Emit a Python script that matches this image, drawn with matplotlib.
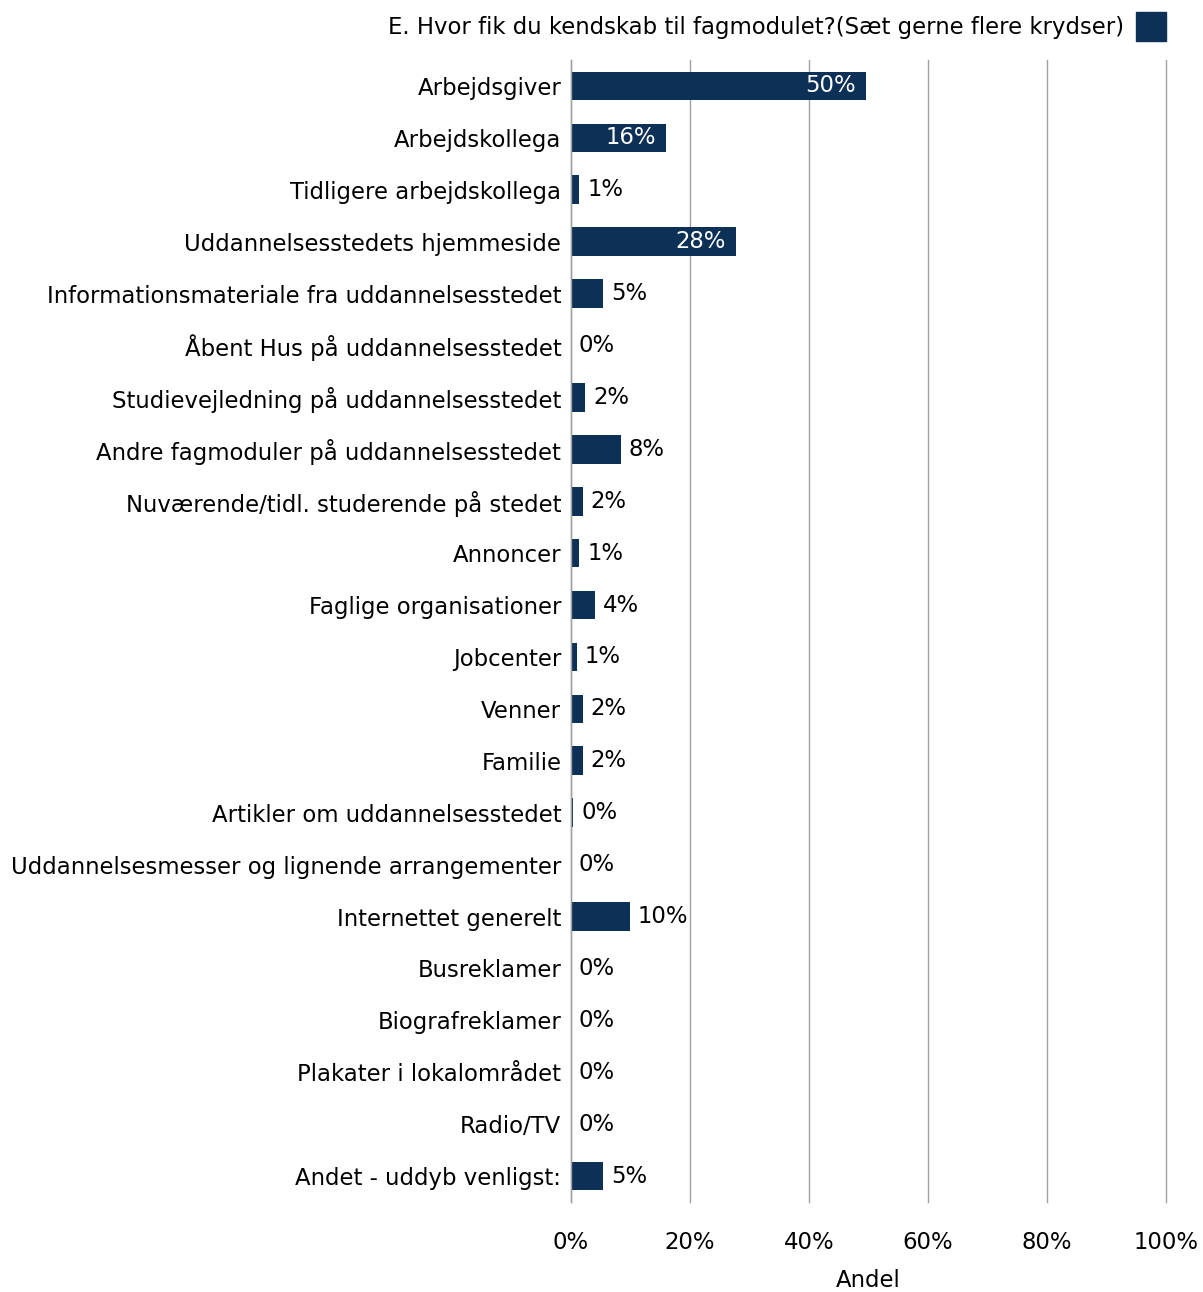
import matplotlib
matplotlib.use("Agg")
import matplotlib.pyplot as plt
from matplotlib.patches import Patch

categories = [
    "Arbejdsgiver",
    "Arbejdskollega",
    "Tidligere arbejdskollega",
    "Uddannelsesstedets hjemmeside",
    "Informationsmateriale fra uddannelsesstedet",
    "Åbent Hus på uddannelsesstedet",
    "Studievejledning på uddannelsesstedet",
    "Andre fagmoduler på uddannelsesstedet",
    "Nuværende/tidl. studerende på stedet",
    "Annoncer",
    "Faglige organisationer",
    "Jobcenter",
    "Venner",
    "Familie",
    "Artikler om uddannelsesstedet",
    "Uddannelsesmesser og lignende arrangementer",
    "Internettet generelt",
    "Busreklamer",
    "Biografreklamer",
    "Plakater i lokalområdet",
    "Radio/TV",
    "Andet - uddyb venligst:",
]
shares = [49.6, 16.0, 1.4, 27.7, 5.4, 0.0, 2.4, 8.4, 2.0, 1.4, 4.0, 1.0,
          2.0, 2.0, 0.4, 0.0, 9.9, 0.0, 0.0, 0.0, 0.0, 5.4]
series_name = "E. Hvor fik du kendskab til fagmodulet?(Sæt gerne flere krydser)"
xticks = [0, 20, 40, 60, 80, 100]
xlabel = "Andel"

BAR = "#0d3057"
GRID = "#a0a0a0"
FONT = "DejaVu Sans"
FS = 16.4

plt.rcParams["font.family"] = [FONT]

W, H = 1203, 1292
fig = plt.figure(figsize=(W / 100, H / 100), dpi=100)
ax = fig.add_axes([571 / W, 1 - 1202 / H, (1166 - 571) / W, (1202 - 60) / H])

y = list(range(len(categories)))
ax.barh(y, shares, height=0.55, color=BAR, zorder=3)

ax.set_xlim(0, 100)
ax.set_ylim(len(categories) - 0.5, -0.5)
ax.set_yticks(y)
ax.set_yticklabels(categories, fontsize=FS)
ax.set_xticks(xticks)
ax.set_xticklabels([f"{t}%" for t in xticks], fontsize=FS)
ax.tick_params(axis="y", length=0, pad=7)
ax.tick_params(axis="x", length=0, pad=21)
ax.set_xlabel(xlabel, fontsize=FS)
ax.xaxis.set_label_coords(0.5, -0.069)
ax.xaxis.label.set_verticalalignment("center")

ax.grid(axis="x", color=GRID, linewidth=1.0, zorder=0)
for gl in ax.xaxis.get_gridlines():
    gl.set_clip_on(False)
for s in ("top", "right", "bottom"):
    ax.spines[s].set_visible(False)
ax.spines["left"].set_color(GRID)
ax.spines["left"].set_linewidth(1.0)
ax.spines["left"].set_zorder(4)

# value labels: inside bar for long bars, outside otherwise
for yi, v in zip(y, shares):
    txt = f"{v:.0f}%"
    if v >= 15:
        ax.text(v - 1.7, yi, txt, ha="right", va="center", color="white",
                fontsize=FS, zorder=5)
    else:
        ax.text(v + 1.3, yi, txt, ha="left", va="center", color="black",
                fontsize=FS, zorder=5)

handle = Patch(facecolor=BAR, edgecolor=BAR)
fig.legend([handle], [series_name], loc="upper right",
           bbox_to_anchor=(1182 / W, 1 + 4 / H), frameon=False,
           markerfirst=False, fontsize=FS, handlelength=1.3, handleheight=1.6,
           handletextpad=0.55, borderpad=0.2)

fig.savefig("out.png", dpi=100, facecolor="white")
